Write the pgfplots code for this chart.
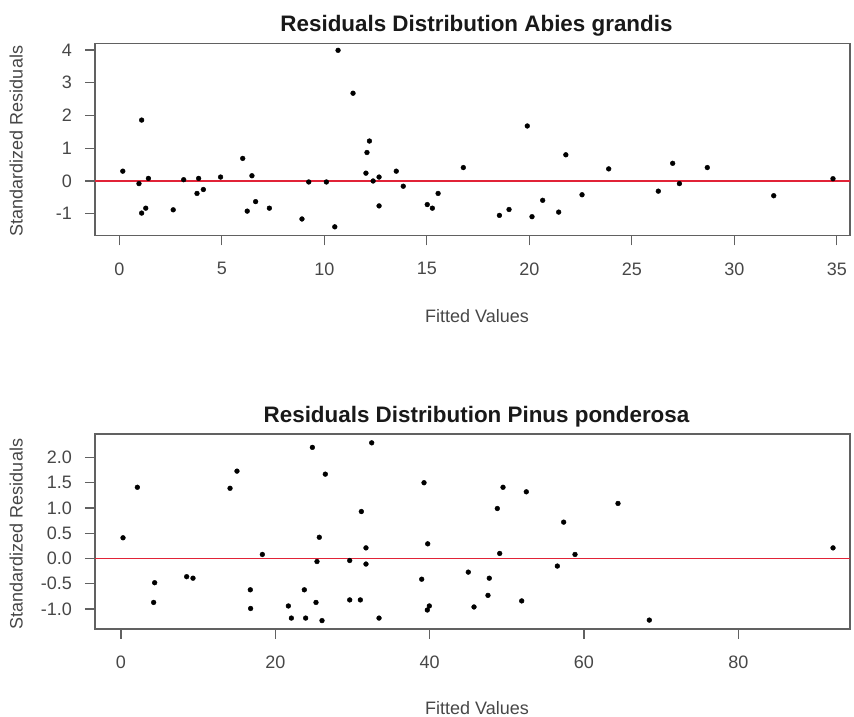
\documentclass[border=0pt]{standalone}
\usepackage{pgfplots}
\pgfplotsset{compat=1.18}
\usepackage{fontspec}
\setmainfont{Liberation Sans}

\definecolor{frame}{gray}{0.38}
\definecolor{ticktext}{gray}{0.28}

% fitted values vs standardized residuals, Abies grandis
\pgfplotstableread{
x y
0.17 0.30
0.96 -0.08
1.09 1.86
1.42 0.08
1.09 -0.98
1.29 -0.83
2.63 -0.88
3.14 0.04
3.87 0.08
3.79 -0.38
4.10 -0.26
4.94 0.12
6.02 0.69
6.24 -0.92
6.47 0.16
6.65 -0.63
7.32 -0.83
8.91 -1.16
9.24 -0.03
10.10 -0.03
10.67 3.99
10.51 -1.40
11.40 2.68
12.08 0.87
12.20 1.22
12.03 0.24
12.38 0.00
12.67 0.12
12.67 -0.76
13.51 0.30
13.85 -0.16
15.02 -0.72
15.27 -0.83
15.55 -0.38
16.78 0.41
19.90 1.68
18.54 -1.05
19.01 -0.87
20.13 -1.09
20.65 -0.59
21.43 -0.95
21.78 0.80
22.57 -0.42
23.87 0.37
26.29 -0.31
26.99 0.54
27.32 -0.08
28.68 0.41
31.92 -0.45
34.81 0.07
}\abies

% fitted values vs standardized residuals, Pinus ponderosa
\pgfplotstableread{
x y
0.26 0.41
2.12 1.41
4.36 -0.48
4.23 -0.87
8.51 -0.36
9.33 -0.39
14.13 1.39
15.03 1.73
16.76 -0.62
16.80 -0.99
18.32 0.08
21.69 -0.94
22.08 -1.18
23.76 -0.62
23.93 -1.18
24.80 2.20
25.27 -0.87
25.40 -0.06
25.70 0.42
26.05 -1.23
26.48 1.67
29.64 -0.04
29.64 -0.82
31.02 -0.82
31.15 0.93
31.75 0.21
31.75 -0.11
32.49 2.29
33.44 -1.18
39.27 1.50
38.97 -0.41
39.75 0.29
39.70 -1.02
39.96 -0.94
45.01 -0.27
45.75 -0.96
47.73 -0.39
47.56 -0.73
48.77 0.99
49.51 1.41
49.08 0.10
51.93 -0.84
52.53 1.32
56.55 -0.15
57.37 0.72
58.84 0.08
64.41 1.09
68.47 -1.22
92.28 0.21
}\pinus

% horizontal reference at zero residual
\pgfplotstableread{
x y
-5 0
100 0
}\zero

\pgfplotsset{
  resid/.style={
    scale only axis,
    anchor=south west,
    width=755pt,
    axis line style={frame, line width=1.3pt},
    tick style={frame, line width=1.2pt},
    tick align=outside,
    major tick length=10pt,
    tick pos=left,
    ticklabel style={font=\fontsize{18}{20}\selectfont, text=ticktext, inner sep=0pt},
    xticklabel style={anchor=north},
    yticklabel style={anchor=east},
    xticklabel shift=17pt,
    yticklabel shift=13pt,
    clip=true,
  },
  dots/.style={only marks, mark=*, mark size=2.4pt, mark options={fill=black, draw=black}},
  zerostyle/.style={draw={rgb,255:red,225;green,35;blue,55}, no marks, line width=1.6pt},
}

\begin{document}
\begin{tikzpicture}[x=1pt,y=1pt]
\useasboundingbox (0,0) rectangle (854,717);

\begin{axis}[resid,
  at={(95pt,481.7pt)}, height=192pt,
  xmin=-1.185, xmax=35.64, ymin=-1.658, ymax=4.205,
  xtick={0,5,10,15,20,25,30,35},
  xticklabels={0,5,10,15,20,25,30,35},
  ytick={-1,0,1,2,3,4},
  yticklabels={-1,0,1,2,3,4},
]
\addplot[dots] table[x=x, y=y] {\abies};
\addplot[zerostyle] table[x=x, y=y] {\zero};
\end{axis}

\begin{axis}[resid,
  at={(95pt,88pt)}, height=195pt,
  xmin=-3.37, xmax=94.48, ymin=-1.396, ymax=2.465,
  xtick={0,20,40,60,80},
  xticklabels={0,20,40,60,80},
  ytick={-1,-0.5,0,0.5,1,1.5,2},
  yticklabels={-1.0,-0.5,0.0,0.5,1.0,1.5,2.0},
]
\addplot[dots] table[x=x, y=y] {\pinus};
\addplot[zerostyle] table[x=x, y=y] {\zero};
\end{axis}

% titles and axis labels
\node[anchor=base, font=\fontsize{22.4}{24}\selectfont\bfseries, text=black!90] at (476.5,685.3) {Residuals Distribution Abies grandis};
\node[anchor=base, font=\fontsize{22.4}{24}\selectfont\bfseries, text=black!90] at (476.5,294) {Residuals Distribution Pinus ponderosa};
\node[anchor=base, font=\fontsize{18}{20}\selectfont, text=ticktext] at (477,394) {Fitted Values};
\node[anchor=base, font=\fontsize{18}{20}\selectfont, text=ticktext] at (477,2.5) {Fitted Values};
\node[anchor=base, rotate=90, font=\fontsize{18}{20}\selectfont, text=ticktext] at (22.5,576) {Standardized Residuals};
\node[anchor=base, rotate=90, font=\fontsize{18}{20}\selectfont, text=ticktext] at (22.5,183) {Standardized Residuals};
\end{tikzpicture}
\end{document}
